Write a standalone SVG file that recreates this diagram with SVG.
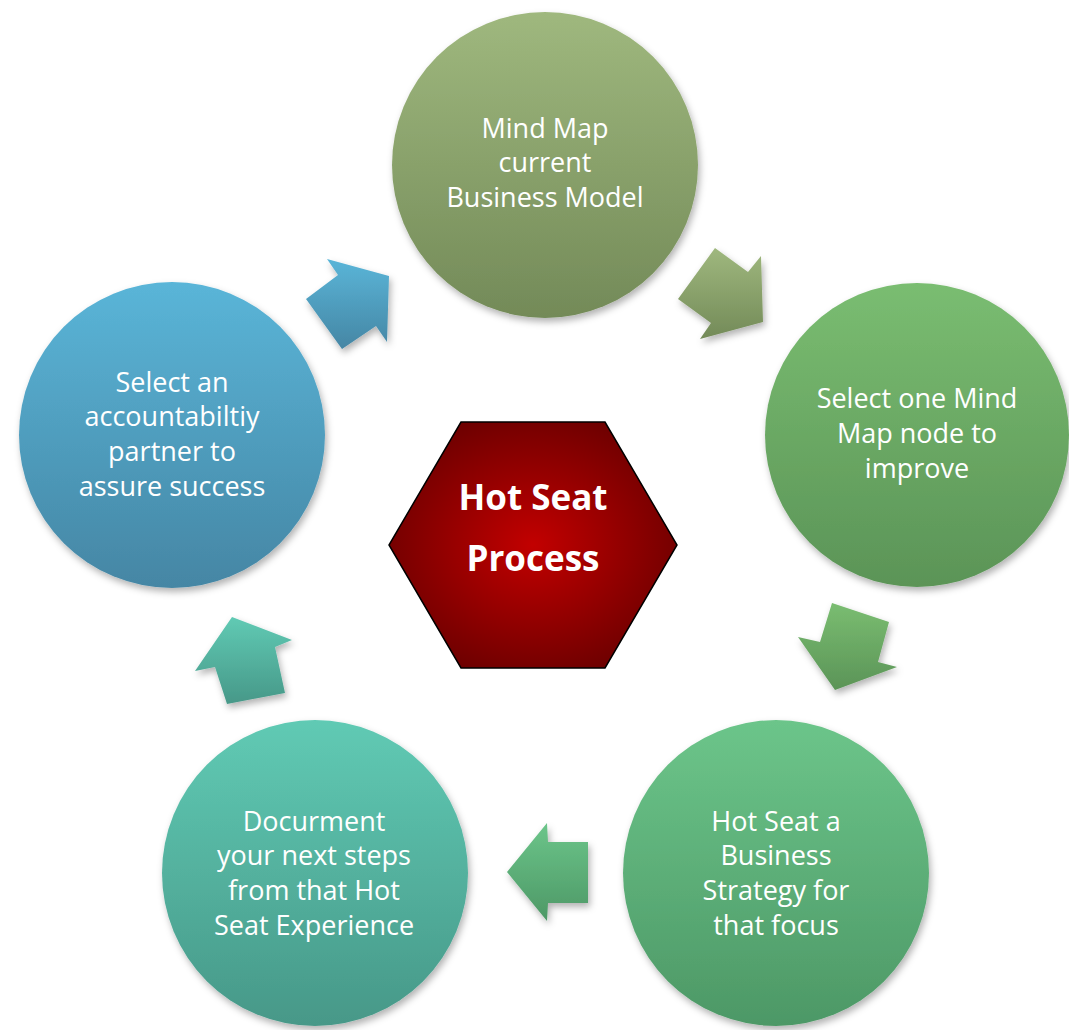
<svg xmlns="http://www.w3.org/2000/svg" width="1069" height="1030" viewBox="0 0 1069 1030">
<defs>
<style>
.lbl{font-family:"Open Sans","Liberation Sans",sans-serif;font-size:27px;fill:#ffffff;text-anchor:middle}
.hot{font-family:"Open Sans","Liberation Sans",sans-serif;font-size:35px;font-weight:bold;fill:#ffffff;text-anchor:middle}
</style>
<filter id="sh" x="-20%" y="-20%" width="140%" height="140%">
<feDropShadow dx="2" dy="4" stdDeviation="3.5" flood-color="#000" flood-opacity="0.3"/>
</filter>
<linearGradient id="gOlive" x1="0" y1="0" x2="0" y2="1"><stop offset="0" stop-color="#9fb87e"/><stop offset="1" stop-color="#738a58"/></linearGradient>
<linearGradient id="gGreen" x1="0" y1="0" x2="0" y2="1"><stop offset="0" stop-color="#7abd71"/><stop offset="1" stop-color="#5b9457"/></linearGradient>
<linearGradient id="gMint" x1="0" y1="0" x2="0" y2="1"><stop offset="0" stop-color="#6cc58a"/><stop offset="1" stop-color="#4d9866"/></linearGradient>
<linearGradient id="gTeal" x1="0" y1="0" x2="0" y2="1"><stop offset="0" stop-color="#60cab4"/><stop offset="1" stop-color="#479888"/></linearGradient>
<linearGradient id="gBlue" x1="0" y1="0" x2="0" y2="1"><stop offset="0" stop-color="#5ab5d8"/><stop offset="1" stop-color="#4586a4"/></linearGradient>
<radialGradient id="gRed" cx="0.5" cy="0.5" r="0.55"><stop offset="0" stop-color="#c20000"/><stop offset="1" stop-color="#6e0000"/></radialGradient>
</defs>
<rect x="0" y="0" width="1069" height="1030" fill="#ffffff"/>

<g id="connectors">
<polygon fill="url(#gOlive)" filter="url(#sh)" points="715,248 748,272 761,256 763,322 700,339 711,323 678,299"/>
<polygon fill="url(#gGreen)" filter="url(#sh)" points="832,603 889,622 878,662 897,667 835,690 798,637 820,642"/>
<polygon fill="url(#gMint)" filter="url(#sh)" points="588,842 548,842 547,823 507,872 547,921 548,903 588,903"/>
<polygon fill="url(#gTeal)" filter="url(#sh)" points="232,617 292,640 275,647 285,693 227,704 215,667 195,671"/>
<polygon fill="url(#gBlue)" filter="url(#sh)" points="327,259 389,276 387,342 376,326 342,349 306,299 338,275"/>
</g>

<g id="node-top">
<circle cx="545" cy="165" r="153" fill="url(#gOlive)" filter="url(#sh)"/>
<text class="lbl" x="545" y="138">Mind Map</text>
<text class="lbl" x="545" y="172">current</text>
<text class="lbl" x="545" y="207">Business Model</text>
</g>

<g id="node-right">
<circle cx="917" cy="435" r="152" fill="url(#gGreen)" filter="url(#sh)"/>
<text class="lbl" x="917" y="408">Select one Mind</text>
<text class="lbl" x="917" y="443">Map node to</text>
<text class="lbl" x="917" y="478">improve</text>
</g>

<g id="node-bottom-right">
<circle cx="776" cy="873" r="153" fill="url(#gMint)" filter="url(#sh)"/>
<text class="lbl" x="776" y="831">Hot Seat a</text>
<text class="lbl" x="776" y="865">Business</text>
<text class="lbl" x="776" y="900">Strategy for</text>
<text class="lbl" x="776" y="935">that focus</text>
</g>

<g id="node-bottom-left">
<circle cx="315" cy="873" r="153" fill="url(#gTeal)" filter="url(#sh)"/>
<text class="lbl" x="314" y="831">Docurment</text>
<text class="lbl" x="314" y="865">your next steps</text>
<text class="lbl" x="314" y="900">from that Hot</text>
<text class="lbl" x="314" y="935">Seat Experience</text>
</g>

<g id="node-left">
<circle cx="172" cy="435" r="153" fill="url(#gBlue)" filter="url(#sh)"/>
<text class="lbl" x="172" y="392">Select an</text>
<text class="lbl" x="172" y="426">accountabiltiy</text>
<text class="lbl" x="172" y="461">partner to</text>
<text class="lbl" x="172" y="496">assure success</text>
</g>

<g id="node-center">
<polygon points="461,422 605,422 677,545 605,668 461,668 389,545" fill="url(#gRed)" stroke="#000000" stroke-width="1.5"/>
<text class="hot" x="533" y="510">Hot Seat</text>
<text class="hot" x="533" y="571">Process</text>
</g>
</svg>
